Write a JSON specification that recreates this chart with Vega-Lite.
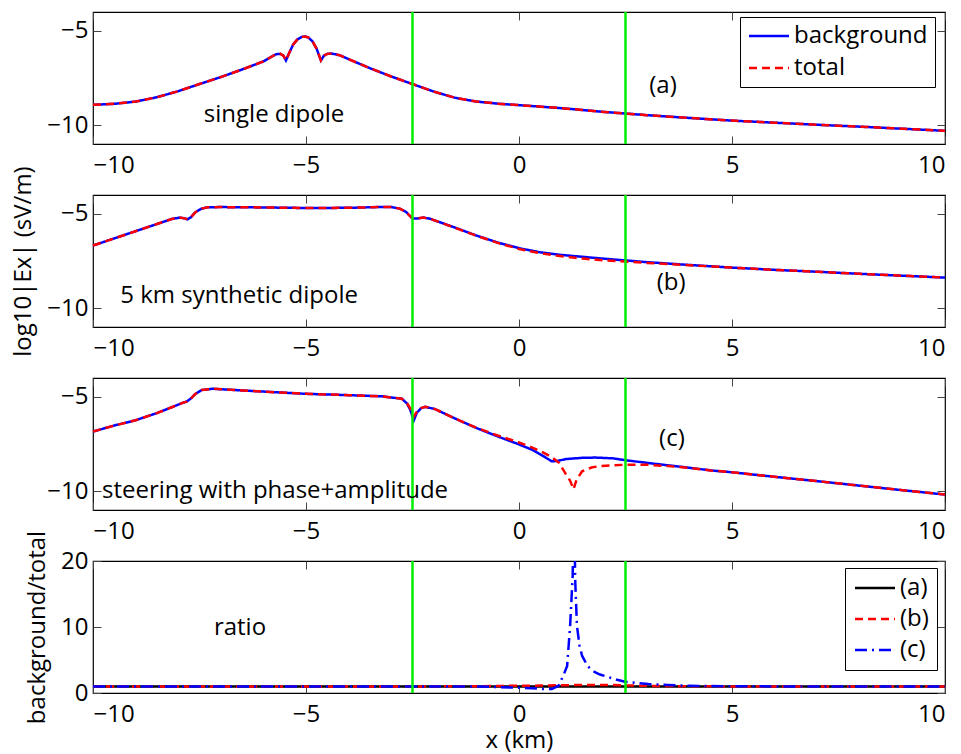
{
  "$schema": "https://vega.github.io/schema/vega-lite/v6.json",
  "autosize": {"type": "pad"},
  "padding": {"left": 10, "top": 10, "right": 16, "bottom": 0},
  "background": "white",
  "config": {
    "font": "Open Sans",
    "view": {"stroke": "black", "strokeWidth": 1.2},
    "axis": {"labelFont": "Open Sans", "labelFontSize": 24, "labelColor": "black", "titleFont": "Open Sans", "titleFontSize": 24, "titleFontWeight": "normal", "titleColor": "black", "grid": false, "domain": false, "tickColor": "#444", "tickWidth": 1, "tickSize": -8},
    "axisX": {"labelPadding": 17},
    "axisY": {"labelPadding": 13},
    "text": {"font": "Open Sans", "fontSize": 24, "color": "black"}
  },
  "datasets": {
    "p1": [
      {"x": -10, "s": "background", "y": -8.92}, {"x": -9.5, "s": "background", "y": -8.87}, {"x": -9, "s": "background", "y": -8.75}, {"x": -8.5, "s": "background", "y": -8.52}, {"x": -8, "s": "background", "y": -8.2}, {"x": -7.5, "s": "background", "y": -7.82}, {"x": -7, "s": "background", "y": -7.45}, {"x": -6.5, "s": "background", "y": -7.05}, {"x": -6, "s": "background", "y": -6.62}, {"x": -5.8, "s": "background", "y": -6.36}, {"x": -5.7, "s": "background", "y": -6.24}, {"x": -5.6, "s": "background", "y": -6.22}, {"x": -5.53, "s": "background", "y": -6.32}, {"x": -5.47, "s": "background", "y": -6.57}, {"x": -5.4, "s": "background", "y": -6.2}, {"x": -5.3, "s": "background", "y": -5.72}, {"x": -5.2, "s": "background", "y": -5.45}, {"x": -5.1, "s": "background", "y": -5.32}, {"x": -5.02, "s": "background", "y": -5.3}, {"x": -4.95, "s": "background", "y": -5.34}, {"x": -4.85, "s": "background", "y": -5.55}, {"x": -4.75, "s": "background", "y": -5.95}, {"x": -4.65, "s": "background", "y": -6.57}, {"x": -4.58, "s": "background", "y": -6.32}, {"x": -4.5, "s": "background", "y": -6.22}, {"x": -4.4, "s": "background", "y": -6.2}, {"x": -4.2, "s": "background", "y": -6.3}, {"x": -4, "s": "background", "y": -6.5}, {"x": -3.5, "s": "background", "y": -6.98}, {"x": -3, "s": "background", "y": -7.42}, {"x": -2.5, "s": "background", "y": -7.82}, {"x": -2, "s": "background", "y": -8.22}, {"x": -1.5, "s": "background", "y": -8.55}, {"x": -1, "s": "background", "y": -8.75}, {"x": -0.5, "s": "background", "y": -8.86}, {"x": 0, "s": "background", "y": -8.94}, {"x": 1, "s": "background", "y": -9.1}, {"x": 2, "s": "background", "y": -9.3}, {"x": 3, "s": "background", "y": -9.47}, {"x": 4, "s": "background", "y": -9.62}, {"x": 5, "s": "background", "y": -9.76}, {"x": 6, "s": "background", "y": -9.87}, {"x": 7, "s": "background", "y": -9.98}, {"x": 8, "s": "background", "y": -10.08}, {"x": 9, "s": "background", "y": -10.19}, {"x": 10, "s": "background", "y": -10.3},
      {"x": -10, "s": "total", "y": -8.92}, {"x": -9.5, "s": "total", "y": -8.87}, {"x": -9, "s": "total", "y": -8.75}, {"x": -8.5, "s": "total", "y": -8.52}, {"x": -8, "s": "total", "y": -8.2}, {"x": -7.5, "s": "total", "y": -7.82}, {"x": -7, "s": "total", "y": -7.45}, {"x": -6.5, "s": "total", "y": -7.05}, {"x": -6, "s": "total", "y": -6.62}, {"x": -5.8, "s": "total", "y": -6.36}, {"x": -5.7, "s": "total", "y": -6.24}, {"x": -5.6, "s": "total", "y": -6.22}, {"x": -5.53, "s": "total", "y": -6.32}, {"x": -5.47, "s": "total", "y": -6.57}, {"x": -5.4, "s": "total", "y": -6.2}, {"x": -5.3, "s": "total", "y": -5.72}, {"x": -5.2, "s": "total", "y": -5.45}, {"x": -5.1, "s": "total", "y": -5.32}, {"x": -5.02, "s": "total", "y": -5.3}, {"x": -4.95, "s": "total", "y": -5.34}, {"x": -4.85, "s": "total", "y": -5.55}, {"x": -4.75, "s": "total", "y": -5.95}, {"x": -4.65, "s": "total", "y": -6.57}, {"x": -4.58, "s": "total", "y": -6.32}, {"x": -4.5, "s": "total", "y": -6.22}, {"x": -4.4, "s": "total", "y": -6.2}, {"x": -4.2, "s": "total", "y": -6.3}, {"x": -4, "s": "total", "y": -6.5}, {"x": -3.5, "s": "total", "y": -6.98}, {"x": -3, "s": "total", "y": -7.42}, {"x": -2.5, "s": "total", "y": -7.82}, {"x": -2, "s": "total", "y": -8.22}, {"x": -1.5, "s": "total", "y": -8.55}, {"x": -1, "s": "total", "y": -8.75}, {"x": -0.5, "s": "total", "y": -8.86}, {"x": 0, "s": "total", "y": -8.94}, {"x": 1, "s": "total", "y": -9.1}, {"x": 2, "s": "total", "y": -9.3}, {"x": 3, "s": "total", "y": -9.47}, {"x": 4, "s": "total", "y": -9.62}, {"x": 5, "s": "total", "y": -9.76}, {"x": 6, "s": "total", "y": -9.87}, {"x": 7, "s": "total", "y": -9.98}, {"x": 8, "s": "total", "y": -10.08}, {"x": 9, "s": "total", "y": -10.19}, {"x": 10, "s": "total", "y": -10.3}
    ],
    "p2": [
      {"x": -10, "s": "background", "y": -6.68}, {"x": -9.5, "s": "background", "y": -6.3}, {"x": -9, "s": "background", "y": -5.92}, {"x": -8.5, "s": "background", "y": -5.54}, {"x": -8.15, "s": "background", "y": -5.27}, {"x": -7.96, "s": "background", "y": -5.2}, {"x": -7.85, "s": "background", "y": -5.24}, {"x": -7.78, "s": "background", "y": -5.29}, {"x": -7.7, "s": "background", "y": -5.18}, {"x": -7.6, "s": "background", "y": -4.92}, {"x": -7.45, "s": "background", "y": -4.72}, {"x": -7.3, "s": "background", "y": -4.65}, {"x": -7, "s": "background", "y": -4.64}, {"x": -6, "s": "background", "y": -4.66}, {"x": -5, "s": "background", "y": -4.69}, {"x": -4, "s": "background", "y": -4.68}, {"x": -3.3, "s": "background", "y": -4.64}, {"x": -3, "s": "background", "y": -4.64}, {"x": -2.8, "s": "background", "y": -4.72}, {"x": -2.65, "s": "background", "y": -4.9}, {"x": -2.5, "s": "background", "y": -5.25}, {"x": -2.4, "s": "background", "y": -5.25}, {"x": -2.25, "s": "background", "y": -5.2}, {"x": -2.1, "s": "background", "y": -5.25}, {"x": -2, "s": "background", "y": -5.33}, {"x": -1.5, "s": "background", "y": -5.73}, {"x": -1, "s": "background", "y": -6.15}, {"x": -0.5, "s": "background", "y": -6.52}, {"x": 0, "s": "background", "y": -6.82}, {"x": 0.5, "s": "background", "y": -7.04}, {"x": 1, "s": "background", "y": -7.18}, {"x": 1.5, "s": "background", "y": -7.28}, {"x": 2, "s": "background", "y": -7.38}, {"x": 2.5, "s": "background", "y": -7.47}, {"x": 3, "s": "background", "y": -7.56}, {"x": 4, "s": "background", "y": -7.71}, {"x": 5, "s": "background", "y": -7.85}, {"x": 6, "s": "background", "y": -7.97}, {"x": 7, "s": "background", "y": -8.07}, {"x": 8, "s": "background", "y": -8.18}, {"x": 9, "s": "background", "y": -8.28}, {"x": 10, "s": "background", "y": -8.38},
      {"x": -10, "s": "total", "y": -6.68}, {"x": -9.5, "s": "total", "y": -6.3}, {"x": -9, "s": "total", "y": -5.92}, {"x": -8.5, "s": "total", "y": -5.54}, {"x": -8.15, "s": "total", "y": -5.27}, {"x": -7.96, "s": "total", "y": -5.2}, {"x": -7.85, "s": "total", "y": -5.24}, {"x": -7.78, "s": "total", "y": -5.29}, {"x": -7.7, "s": "total", "y": -5.18}, {"x": -7.6, "s": "total", "y": -4.92}, {"x": -7.45, "s": "total", "y": -4.72}, {"x": -7.3, "s": "total", "y": -4.65}, {"x": -7, "s": "total", "y": -4.64}, {"x": -6, "s": "total", "y": -4.66}, {"x": -5, "s": "total", "y": -4.69}, {"x": -4, "s": "total", "y": -4.68}, {"x": -3.3, "s": "total", "y": -4.64}, {"x": -3, "s": "total", "y": -4.64}, {"x": -2.8, "s": "total", "y": -4.72}, {"x": -2.65, "s": "total", "y": -4.9}, {"x": -2.5, "s": "total", "y": -5.25}, {"x": -2.4, "s": "total", "y": -5.25}, {"x": -2.25, "s": "total", "y": -5.2}, {"x": -2.1, "s": "total", "y": -5.25}, {"x": -2, "s": "total", "y": -5.33}, {"x": -1.5, "s": "total", "y": -5.74}, {"x": -1, "s": "total", "y": -6.16}, {"x": -0.5, "s": "total", "y": -6.54}, {"x": 0, "s": "total", "y": -6.86}, {"x": 0.5, "s": "total", "y": -7.09}, {"x": 1, "s": "total", "y": -7.25}, {"x": 1.5, "s": "total", "y": -7.37}, {"x": 2, "s": "total", "y": -7.47}, {"x": 2.5, "s": "total", "y": -7.53}, {"x": 3, "s": "total", "y": -7.6}, {"x": 4, "s": "total", "y": -7.72}, {"x": 5, "s": "total", "y": -7.85}, {"x": 6, "s": "total", "y": -7.97}, {"x": 7, "s": "total", "y": -8.07}, {"x": 8, "s": "total", "y": -8.18}, {"x": 9, "s": "total", "y": -8.28}, {"x": 10, "s": "total", "y": -8.38}
    ],
    "p3": [
      {"x": -10, "s": "background", "y": -6.84}, {"x": -9.5, "s": "background", "y": -6.52}, {"x": -9, "s": "background", "y": -6.24}, {"x": -8.5, "s": "background", "y": -5.86}, {"x": -8.15, "s": "background", "y": -5.55}, {"x": -7.9, "s": "background", "y": -5.32}, {"x": -7.8, "s": "background", "y": -5.25}, {"x": -7.7, "s": "background", "y": -5.08}, {"x": -7.6, "s": "background", "y": -4.85}, {"x": -7.45, "s": "background", "y": -4.64}, {"x": -7.2, "s": "background", "y": -4.57}, {"x": -6.5, "s": "background", "y": -4.66}, {"x": -6, "s": "background", "y": -4.72}, {"x": -5, "s": "background", "y": -4.84}, {"x": -4, "s": "background", "y": -4.91}, {"x": -3.22, "s": "background", "y": -4.97}, {"x": -2.75, "s": "background", "y": -5.1}, {"x": -2.63, "s": "background", "y": -5.35}, {"x": -2.55, "s": "background", "y": -5.7}, {"x": -2.47, "s": "background", "y": -6.25}, {"x": -2.4, "s": "background", "y": -5.85}, {"x": -2.3, "s": "background", "y": -5.6}, {"x": -2.2, "s": "background", "y": -5.53}, {"x": -1.97, "s": "background", "y": -5.65}, {"x": -1.5, "s": "background", "y": -6.15}, {"x": -1, "s": "background", "y": -6.65}, {"x": -0.5, "s": "background", "y": -7.1}, {"x": 0, "s": "background", "y": -7.52}, {"x": 0.3, "s": "background", "y": -7.8}, {"x": 0.54, "s": "background", "y": -8.1}, {"x": 0.77, "s": "background", "y": -8.42}, {"x": 0.9, "s": "background", "y": -8.4}, {"x": 1.1, "s": "background", "y": -8.3}, {"x": 1.5, "s": "background", "y": -8.23}, {"x": 1.8, "s": "background", "y": -8.22}, {"x": 2.2, "s": "background", "y": -8.26}, {"x": 2.5, "s": "background", "y": -8.36}, {"x": 3, "s": "background", "y": -8.5}, {"x": 3.5, "s": "background", "y": -8.63}, {"x": 4, "s": "background", "y": -8.76}, {"x": 4.5, "s": "background", "y": -8.9}, {"x": 5, "s": "background", "y": -9.0}, {"x": 6, "s": "background", "y": -9.24}, {"x": 7, "s": "background", "y": -9.47}, {"x": 8, "s": "background", "y": -9.71}, {"x": 9, "s": "background", "y": -9.95}, {"x": 10, "s": "background", "y": -10.18},
      {"x": -10, "s": "total", "y": -6.84}, {"x": -9.5, "s": "total", "y": -6.52}, {"x": -9, "s": "total", "y": -6.24}, {"x": -8.5, "s": "total", "y": -5.86}, {"x": -8.15, "s": "total", "y": -5.55}, {"x": -7.9, "s": "total", "y": -5.32}, {"x": -7.8, "s": "total", "y": -5.25}, {"x": -7.7, "s": "total", "y": -5.08}, {"x": -7.6, "s": "total", "y": -4.85}, {"x": -7.45, "s": "total", "y": -4.64}, {"x": -7.2, "s": "total", "y": -4.57}, {"x": -6.5, "s": "total", "y": -4.66}, {"x": -6, "s": "total", "y": -4.72}, {"x": -5, "s": "total", "y": -4.84}, {"x": -4, "s": "total", "y": -4.91}, {"x": -3.22, "s": "total", "y": -4.97}, {"x": -2.75, "s": "total", "y": -5.1}, {"x": -2.63, "s": "total", "y": -5.33}, {"x": -2.55, "s": "total", "y": -5.62}, {"x": -2.47, "s": "total", "y": -6.05}, {"x": -2.4, "s": "total", "y": -5.8}, {"x": -2.3, "s": "total", "y": -5.6}, {"x": -2.2, "s": "total", "y": -5.53}, {"x": -1.97, "s": "total", "y": -5.65}, {"x": -1.5, "s": "total", "y": -6.15}, {"x": -1, "s": "total", "y": -6.64}, {"x": -0.5, "s": "total", "y": -7.05}, {"x": 0, "s": "total", "y": -7.42}, {"x": 0.3, "s": "total", "y": -7.68}, {"x": 0.54, "s": "total", "y": -7.92}, {"x": 0.77, "s": "total", "y": -8.2}, {"x": 0.94, "s": "total", "y": -8.5}, {"x": 1.1, "s": "total", "y": -9.1}, {"x": 1.2, "s": "total", "y": -9.45}, {"x": 1.28, "s": "total", "y": -9.9}, {"x": 1.35, "s": "total", "y": -9.4}, {"x": 1.48, "s": "total", "y": -8.95}, {"x": 1.7, "s": "total", "y": -8.75}, {"x": 1.87, "s": "total", "y": -8.68}, {"x": 2.2, "s": "total", "y": -8.63}, {"x": 2.5, "s": "total", "y": -8.6}, {"x": 3, "s": "total", "y": -8.6}, {"x": 3.5, "s": "total", "y": -8.67}, {"x": 4, "s": "total", "y": -8.77}, {"x": 4.5, "s": "total", "y": -8.9}, {"x": 5, "s": "total", "y": -9.0}, {"x": 6, "s": "total", "y": -9.24}, {"x": 7, "s": "total", "y": -9.47}, {"x": 8, "s": "total", "y": -9.71}, {"x": 9, "s": "total", "y": -9.95}, {"x": 10, "s": "total", "y": -10.18}
    ],
    "p4": [
      {"x": -10, "s": "(a)", "y": 1}, {"x": -5, "s": "(a)", "y": 1}, {"x": 0, "s": "(a)", "y": 1}, {"x": 5, "s": "(a)", "y": 1}, {"x": 10, "s": "(a)", "y": 1},
      {"x": -10, "s": "(b)", "y": 1}, {"x": -2, "s": "(b)", "y": 1}, {"x": -1, "s": "(b)", "y": 1.02}, {"x": 0, "s": "(b)", "y": 1.1}, {"x": 0.5, "s": "(b)", "y": 1.12}, {"x": 1, "s": "(b)", "y": 1.17}, {"x": 1.5, "s": "(b)", "y": 1.22}, {"x": 2, "s": "(b)", "y": 1.23}, {"x": 2.5, "s": "(b)", "y": 1.15}, {"x": 3, "s": "(b)", "y": 1.08}, {"x": 4, "s": "(b)", "y": 1.02}, {"x": 5, "s": "(b)", "y": 1}, {"x": 10, "s": "(b)", "y": 1},
      {"x": -10, "s": "(c)", "y": 1}, {"x": -5, "s": "(c)", "y": 1}, {"x": -2, "s": "(c)", "y": 1}, {"x": -1, "s": "(c)", "y": 0.97}, {"x": -0.5, "s": "(c)", "y": 0.9}, {"x": 0, "s": "(c)", "y": 0.8}, {"x": 0.3, "s": "(c)", "y": 0.72}, {"x": 0.54, "s": "(c)", "y": 0.62}, {"x": 0.77, "s": "(c)", "y": 0.6}, {"x": 0.93, "s": "(c)", "y": 1.1}, {"x": 1.05, "s": "(c)", "y": 2.8}, {"x": 1.13, "s": "(c)", "y": 4.1}, {"x": 1.2, "s": "(c)", "y": 10.2}, {"x": 1.26, "s": "(c)", "y": 17.8}, {"x": 1.29, "s": "(c)", "y": 30}, {"x": 1.32, "s": "(c)", "y": 17}, {"x": 1.36, "s": "(c)", "y": 10.2}, {"x": 1.42, "s": "(c)", "y": 7.2}, {"x": 1.48, "s": "(c)", "y": 5.65}, {"x": 1.6, "s": "(c)", "y": 4.2}, {"x": 1.71, "s": "(c)", "y": 3.4}, {"x": 1.9, "s": "(c)", "y": 2.8}, {"x": 2.1, "s": "(c)", "y": 2.4}, {"x": 2.3, "s": "(c)", "y": 2.0}, {"x": 2.49, "s": "(c)", "y": 1.7}, {"x": 2.8, "s": "(c)", "y": 1.5}, {"x": 3.04, "s": "(c)", "y": 1.35}, {"x": 3.5, "s": "(c)", "y": 1.2}, {"x": 3.98, "s": "(c)", "y": 1.1}, {"x": 4.5, "s": "(c)", "y": 1.05}, {"x": 5, "s": "(c)", "y": 1.02}, {"x": 6, "s": "(c)", "y": 1}, {"x": 10, "s": "(c)", "y": 1}
    ]
  },
  "bounds": "flush",
  "spacing": 51,
  "resolve": {"scale": {"color": "independent", "strokeDash": "independent", "x": "independent", "y": "independent"}, "legend": {"color": "independent", "strokeDash": "independent"}},
  "vconcat": [
    {
      "width": 852, "height": 132,
      "resolve": {"axis": {"x": "independent", "y": "independent"}},
      "layer": [
        {
          "data": {"name": "p1"},
          "mark": {"type": "line", "strokeWidth": 2.5},
          "encoding": {
            "x": {"field": "x", "type": "quantitative", "scale": {"domain": [-10, 10], "nice": false}, "axis": {"orient": "bottom", "values": [-10, -5, 0, 5, 10], "title": null}},
            "y": {"field": "y", "type": "quantitative", "scale": {"domain": [-11, -4], "nice": false, "zero": false}, "axis": {"orient": "left", "values": [-10, -5], "title": null}},
            "color": {"field": "s", "type": "nominal", "scale": {"domain": ["background", "total"], "range": ["#0000ff", "#ff0000"]}, "legend": {"title": null, "orient": "none", "legendX": 647, "legendY": 5, "symbolType": "M-1,0H3", "symbolSize": 400, "symbolStrokeWidth": 2.5, "labelOffset": 23, "rowPadding": 8, "padding": 7, "strokeColor": "black", "fillColor": "white", "labelFont": "Open Sans", "labelFontSize": 24, "labelColor": "black"}},
            "strokeDash": {"field": "s", "type": "nominal", "scale": {"domain": ["background", "total"], "range": [[1, 0], [8, 5]]}, "legend": {"title": null, "orient": "none", "legendX": 647, "legendY": 5, "symbolType": "M-1,0H3", "symbolSize": 400, "symbolStrokeWidth": 2.5, "labelOffset": 23, "rowPadding": 8, "padding": 7, "strokeColor": "black", "fillColor": "white", "labelFont": "Open Sans", "labelFontSize": 24, "labelColor": "black"}}
          }
        },
        {
          "data": {"values": [{"x": -2.5}, {"x": 2.5}]},
          "mark": {"type": "rule", "color": "#00ee00", "strokeWidth": 2.5},
          "encoding": {"x": {"field": "x", "type": "quantitative", "axis": null}}
        },
        {
          "data": {"values": [{"x": -5.75, "y": -9.44, "t": "single dipole"}, {"x": 3.38, "y": -7.9, "t": "(a)"}]},
          "mark": {"type": "text", "align": "center", "baseline": "middle"},
          "encoding": {
            "x": {"field": "x", "type": "quantitative", "axis": {"orient": "top", "labels": false, "values": [-10, -5, 0, 5, 10], "title": null}},
            "y": {"field": "y", "type": "quantitative", "axis": {"orient": "right", "labels": false, "values": [-10, -5], "title": null}},
            "text": {"field": "t"}
          }
        }
      ]
    },
    {
      "width": 852, "height": 132,
      "resolve": {"axis": {"x": "independent", "y": "independent"}},
      "layer": [
        {
          "data": {"name": "p2"},
          "mark": {"type": "line", "strokeWidth": 2.5},
          "encoding": {
            "x": {"field": "x", "type": "quantitative", "scale": {"domain": [-10, 10], "nice": false}, "axis": {"orient": "bottom", "values": [-10, -5, 0, 5, 10], "title": null}},
            "y": {"field": "y", "type": "quantitative", "scale": {"domain": [-11, -4], "nice": false, "zero": false}, "axis": {"orient": "left", "values": [-10, -5], "title": "log10|Ex| (sV/m)", "titleX": -58}},
            "color": {"field": "s", "type": "nominal", "scale": {"domain": ["background", "total"], "range": ["#0000ff", "#ff0000"]}, "legend": null},
            "strokeDash": {"field": "s", "type": "nominal", "scale": {"domain": ["background", "total"], "range": [[1, 0], [8, 5]]}, "legend": null}
          }
        },
        {
          "data": {"values": [{"x": -2.5}, {"x": 2.5}]},
          "mark": {"type": "rule", "color": "#00ee00", "strokeWidth": 2.5},
          "encoding": {"x": {"field": "x", "type": "quantitative", "axis": null}}
        },
        {
          "data": {"values": [{"x": -6.57, "y": -9.34, "t": "5 km synthetic dipole"}, {"x": 3.57, "y": -8.65, "t": "(b)"}]},
          "mark": {"type": "text", "align": "center", "baseline": "middle"},
          "encoding": {
            "x": {"field": "x", "type": "quantitative", "axis": {"orient": "top", "labels": false, "values": [-10, -5, 0, 5, 10], "title": null}},
            "y": {"field": "y", "type": "quantitative", "axis": {"orient": "right", "labels": false, "values": [-10, -5], "title": null}},
            "text": {"field": "t"}
          }
        }
      ]
    },
    {
      "width": 852, "height": 132,
      "resolve": {"axis": {"x": "independent", "y": "independent"}},
      "layer": [
        {
          "data": {"name": "p3"},
          "mark": {"type": "line", "strokeWidth": 2.5},
          "encoding": {
            "x": {"field": "x", "type": "quantitative", "scale": {"domain": [-10, 10], "nice": false}, "axis": {"orient": "bottom", "values": [-10, -5, 0, 5, 10], "title": null}},
            "y": {"field": "y", "type": "quantitative", "scale": {"domain": [-11, -4], "nice": false, "zero": false}, "axis": {"orient": "left", "values": [-10, -5], "title": null}},
            "color": {"field": "s", "type": "nominal", "scale": {"domain": ["background", "total"], "range": ["#0000ff", "#ff0000"]}, "legend": null},
            "strokeDash": {"field": "s", "type": "nominal", "scale": {"domain": ["background", "total"], "range": [[1, 0], [8, 5]]}, "legend": null}
          }
        },
        {
          "data": {"values": [{"x": -2.5}, {"x": 2.5}]},
          "mark": {"type": "rule", "color": "#00ee00", "strokeWidth": 2.5},
          "encoding": {"x": {"field": "x", "type": "quantitative", "axis": null}}
        },
        {
          "data": {"values": [{"x": 3.59, "y": -7.22, "t": "(c)"}]},
          "mark": {"type": "text", "align": "center", "baseline": "middle"},
          "encoding": {
            "x": {"field": "x", "type": "quantitative", "axis": {"orient": "top", "labels": false, "values": [-10, -5, 0, 5, 10], "title": null}},
            "y": {"field": "y", "type": "quantitative", "axis": {"orient": "right", "labels": false, "values": [-10, -5], "title": null}},
            "text": {"field": "t"}
          }
        },
        {
          "data": {"values": [{"x": -9.79, "y": -9.97, "t": "steering with phase+amplitude"}]},
          "mark": {"type": "text", "align": "left", "baseline": "middle"},
          "encoding": {
            "x": {"field": "x", "type": "quantitative", "axis": null},
            "y": {"field": "y", "type": "quantitative", "axis": null},
            "text": {"field": "t"}
          }
        }
      ]
    },
    {
      "width": 852, "height": 132,
      "resolve": {"axis": {"x": "independent", "y": "independent"}},
      "layer": [
        {
          "data": {"name": "p4"},
          "mark": {"type": "line", "strokeWidth": 2.5, "clip": true},
          "encoding": {
            "x": {"field": "x", "type": "quantitative", "scale": {"domain": [-10, 10], "nice": false}, "axis": {"orient": "bottom", "values": [-10, -5, 0, 5, 10], "title": "x (km)", "titlePadding": 2}},
            "y": {"field": "y", "type": "quantitative", "scale": {"domain": [0, 20], "nice": false}, "axis": {"orient": "left", "values": [0, 10, 20], "title": "background/total", "titleX": -44}},
            "color": {"field": "s", "type": "nominal", "scale": {"domain": ["(a)", "(b)", "(c)"], "range": ["#000000", "#ff0000", "#0000ff"]}, "legend": {"title": null, "orient": "none", "legendX": 752, "legendY": 7, "symbolType": "M-1,0H3", "symbolSize": 400, "symbolStrokeWidth": 2.5, "labelOffset": 23, "rowPadding": 7, "padding": 8, "strokeColor": "black", "fillColor": "white", "labelFont": "Open Sans", "labelFontSize": 24, "labelColor": "black"}},
            "strokeDash": {"field": "s", "type": "nominal", "scale": {"domain": ["(a)", "(b)", "(c)"], "range": [[1, 0], [8, 5], [12, 5, 2, 5]]}, "legend": {"title": null, "orient": "none", "legendX": 752, "legendY": 7, "symbolType": "M-1,0H3", "symbolSize": 400, "symbolStrokeWidth": 2.5, "labelOffset": 23, "rowPadding": 7, "padding": 8, "strokeColor": "black", "fillColor": "white", "labelFont": "Open Sans", "labelFontSize": 24, "labelColor": "black"}}
          }
        },
        {
          "data": {"values": [{"x": -2.5}, {"x": 2.5}]},
          "mark": {"type": "rule", "color": "#00ee00", "strokeWidth": 2.5},
          "encoding": {"x": {"field": "x", "type": "quantitative", "axis": null}}
        },
        {
          "data": {"values": [{"x": -6.55, "y": 9.8, "t": "ratio"}]},
          "mark": {"type": "text", "align": "center", "baseline": "middle"},
          "encoding": {
            "x": {"field": "x", "type": "quantitative", "axis": {"orient": "top", "labels": false, "values": [-10, -5, 0, 5, 10], "title": null}},
            "y": {"field": "y", "type": "quantitative", "axis": {"orient": "right", "labels": false, "values": [0, 10, 20], "title": null}},
            "text": {"field": "t"}
          }
        }
      ]
    }
  ]
}
